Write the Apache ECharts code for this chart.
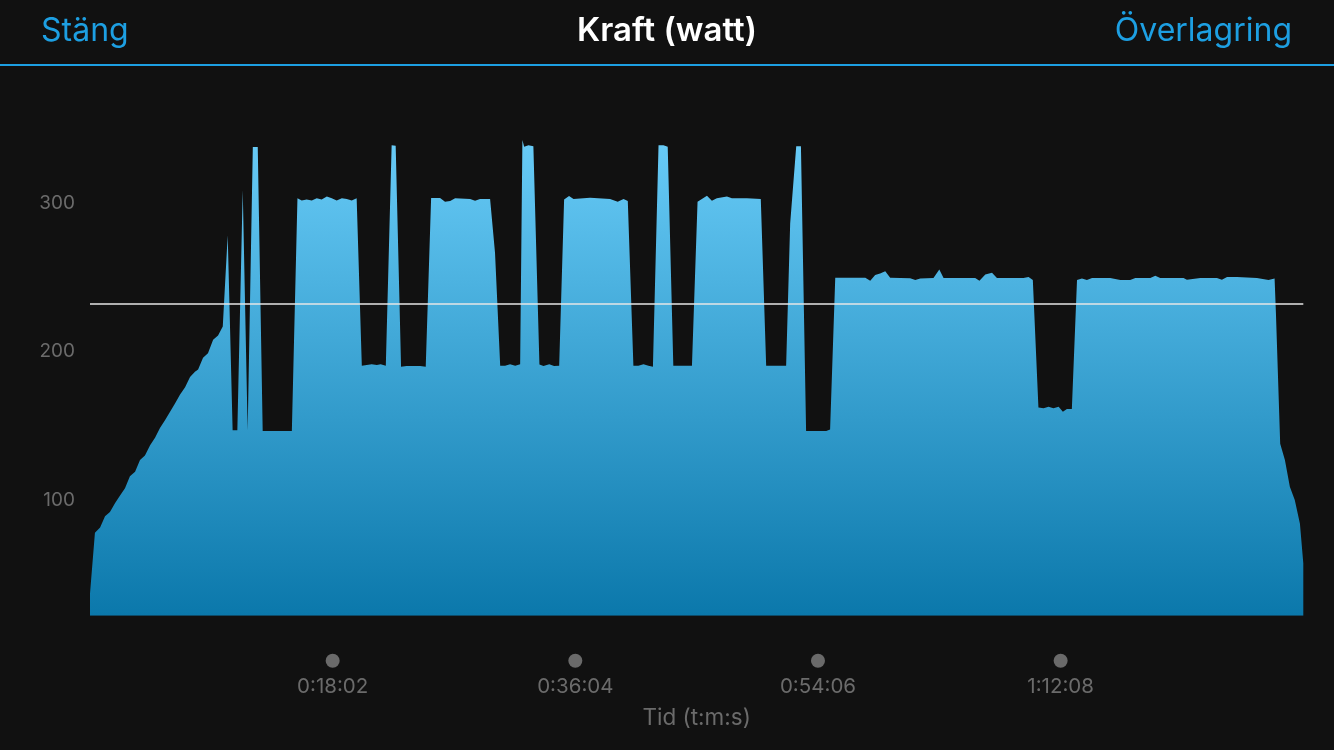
<!DOCTYPE html>
<html>
<head>
<meta charset="utf-8">
<script src="https://cdn.jsdelivr.net/npm/echarts@6/dist/echarts.min.js"></script>
<style>
html,body{margin:0;padding:0;background:#111111;}
#chart{width:1334px;height:750px;}
</style>
</head>
<body>
<div id="chart"></div>
<script>
// Elapsed time (seconds) and power (watts)
const times = [
  0,22,45,67,89,112,134,156,178,201,223,245,268,290,312,335,357,379,401,424,446,468,482,504,526,549,571,592,
  614,636,657,681,703,726,748,770,900,
  925,944,966,989,1011,1033,1056,1078,1100,1123,1145,1167,1189,
  1212,1234,1256,1279,1296,1319,1345,1363,1387,1412,1472,1497,
  1521,1561,1583,1606,1628,1695,1717,1739,1784,1806,
  1829,1851,1873,1896,1918,1928,1936,1955,1977,
  2004,2022,2048,2069,2092,2114,2136,2156,2230,2319,2353,2379,2398,
  2423,2445,2468,2490,2510,2535,2557,2576,2601,2684,
  2709,2751,2773,2795,2840,2862,2929,2991,3015,3104,3122,3149,3170,3193,3283,3300,
  3323,3457,3479,3501,3523,3546,3568,3657,3680,3702,3761,3787,3806,3947,3966,3992,4022,4044,4162,4185,4204,
  4229,4252,4274,4296,4319,4338,4356,4378,
  4401,4423,4445,4468,4519,4549,4594,4638,4661,4728,4750,4772,4876,4891,4951,5025,5047,5070,5114,5203,5255,5282,
  5288,5307,5328,5350,5372,5395,5410
];
const watts = [
  37,78,81.5,89,92,98,103,108,116,119,127,130,137,142,148.5,154,159.5,165,171,176,183,186.5,188,196,199,208,211,217,
  278.6,147,147,309,147,338,338,146.5,146.5,
  303.5,302,302.7,302,303.4,302.7,304.7,303.4,302,303.4,303,302,303.4,
  190.5,191,191.6,191,191.6,190.5,339.3,338.8,189.8,190.3,190.3,189.8,
  303.6,303.6,301.1,301.6,303.4,302.9,301.8,302.9,302.9,266.5,
  190.5,190.5,191.6,190.5,191.6,342.7,338.2,339.3,338.6,
  191.4,190.3,191.6,190.3,190.5,302.7,305,302.9,303.8,302.9,301.1,302.9,301.6,
  190.5,190.5,191.6,190.5,189.8,339.3,339.3,338.2,190.5,190.5,
  301.1,305.2,301.8,303.4,304.7,303.4,303.4,302.9,190.5,190.5,286.5,338.6,338.6,146.5,146.5,147.6,
  249.8,249.8,247.8,251.7,252.8,254.3,249.8,249.6,248.3,249.4,249.7,255.5,249.7,249.7,247.8,252,253.2,249.7,249.7,250.3,248.3,
  162.4,161.8,162.9,161.8,162.9,159.5,161.3,161.3,
  248.3,249.4,248.3,249.7,249.7,249.7,248.3,248.3,249.7,249.7,251.2,249.7,249.7,248.6,249.7,249.7,248.6,250.3,250.3,249.7,248.3,249.4,
  225.8,138,127,109,100,84,57.3
];
const averagePower = 232.6;
const yTickValues = [100, 200, 300];
const xTickStep = 1082;
const xMax = 5410;
const headerLeft = 'Stäng';
const headerTitle = 'Kraft (watt)';
const headerRight = 'Överlagring';
const xAxisName = 'Tid (t:m:s)';

function fmtTime(s) {
  const h = Math.floor(s / 3600);
  const m = Math.floor((s % 3600) / 60);
  const sec = Math.round(s % 60);
  return h + ':' + String(m).padStart(2, '0') + ':' + String(sec).padStart(2, '0');
}

const seriesData = times.map((t, i) => [t, watts[i]]);
const chart = echarts.init(document.getElementById('chart'), null, {renderer: 'canvas'});
const font = 'Inter, "Noto Sans", sans-serif';
const gray = '#6b6b6b';
const blue = '#1d9fe2';

chart.setOption({
  backgroundColor: '#111111',
  animation: false,
  title: [
    {text: headerLeft, left: 41, top: 11, padding: 0,
     textStyle: {color: blue, fontSize: 32, fontWeight: 'normal', fontFamily: font, lineHeight: 40}},
    {text: headerTitle, left: 'center', top: 11, padding: 0,
     textStyle: {color: '#ffffff', fontSize: 33, fontWeight: 600, fontFamily: font, lineHeight: 40}},
    {text: headerRight, right: 42, top: 11, padding: 0,
     textStyle: {color: blue, fontSize: 32, fontWeight: 'normal', fontFamily: font, lineHeight: 40}}
  ],
  graphic: [
    {type: 'rect', left: 0, top: 64, shape: {width: 1334, height: 2}, style: {fill: blue}, silent: true}
  ],
  grid: {left: 90, top: 99.6, width: 1213.3, height: 516.1, containLabel: false},
  xAxis: {
    type: 'value', min: 0, max: xMax, interval: xTickStep,
    axisLine: {show: false}, axisTick: {show: false}, splitLine: {show: false},
    name: xAxisName, nameLocation: 'middle', nameGap: 91,
    nameTextStyle: {color: gray, fontSize: 22.5, fontFamily: font},
    axisLabel: {
      showMinLabel: false, showMaxLabel: false, margin: 33,
      formatter: v => (v <= 0 || v >= xMax) ? '' : '{d| }\n{t|' + fmtTime(v) + '}',
      rich: {
        d: {width: 14, height: 14, borderRadius: 7, backgroundColor: '#6a6a6a', lineHeight: 24, align: 'center'},
        t: {color: gray, fontSize: 20.5, fontFamily: font, lineHeight: 28, align: 'center'}
      }
    }
  },
  yAxis: {
    type: 'value', min: 22, max: 370,
    axisLine: {show: false}, axisTick: {show: false}, splitLine: {show: false},
    axisLabel: {customValues: yTickValues, color: gray, fontSize: 19, fontFamily: font, margin: 15}
  },
  series: [{
    type: 'line',
    data: seriesData,
    symbol: 'none',
    lineStyle: {width: 0},
    areaStyle: {
      opacity: 1,
      color: new echarts.graphic.LinearGradient(0, 0, 0, 1, [
        {offset: 0, color: '#68cbf7'},
        {offset: 1, color: '#0b78ab'}
      ])
    },
    markLine: {
      silent: true, symbol: 'none', label: {show: false},
      lineStyle: {color: '#e6e6e6', width: 1.5, type: 'solid'},
      data: [{yAxis: averagePower}]
    }
  }]
});
</script>
</body>
</html>
